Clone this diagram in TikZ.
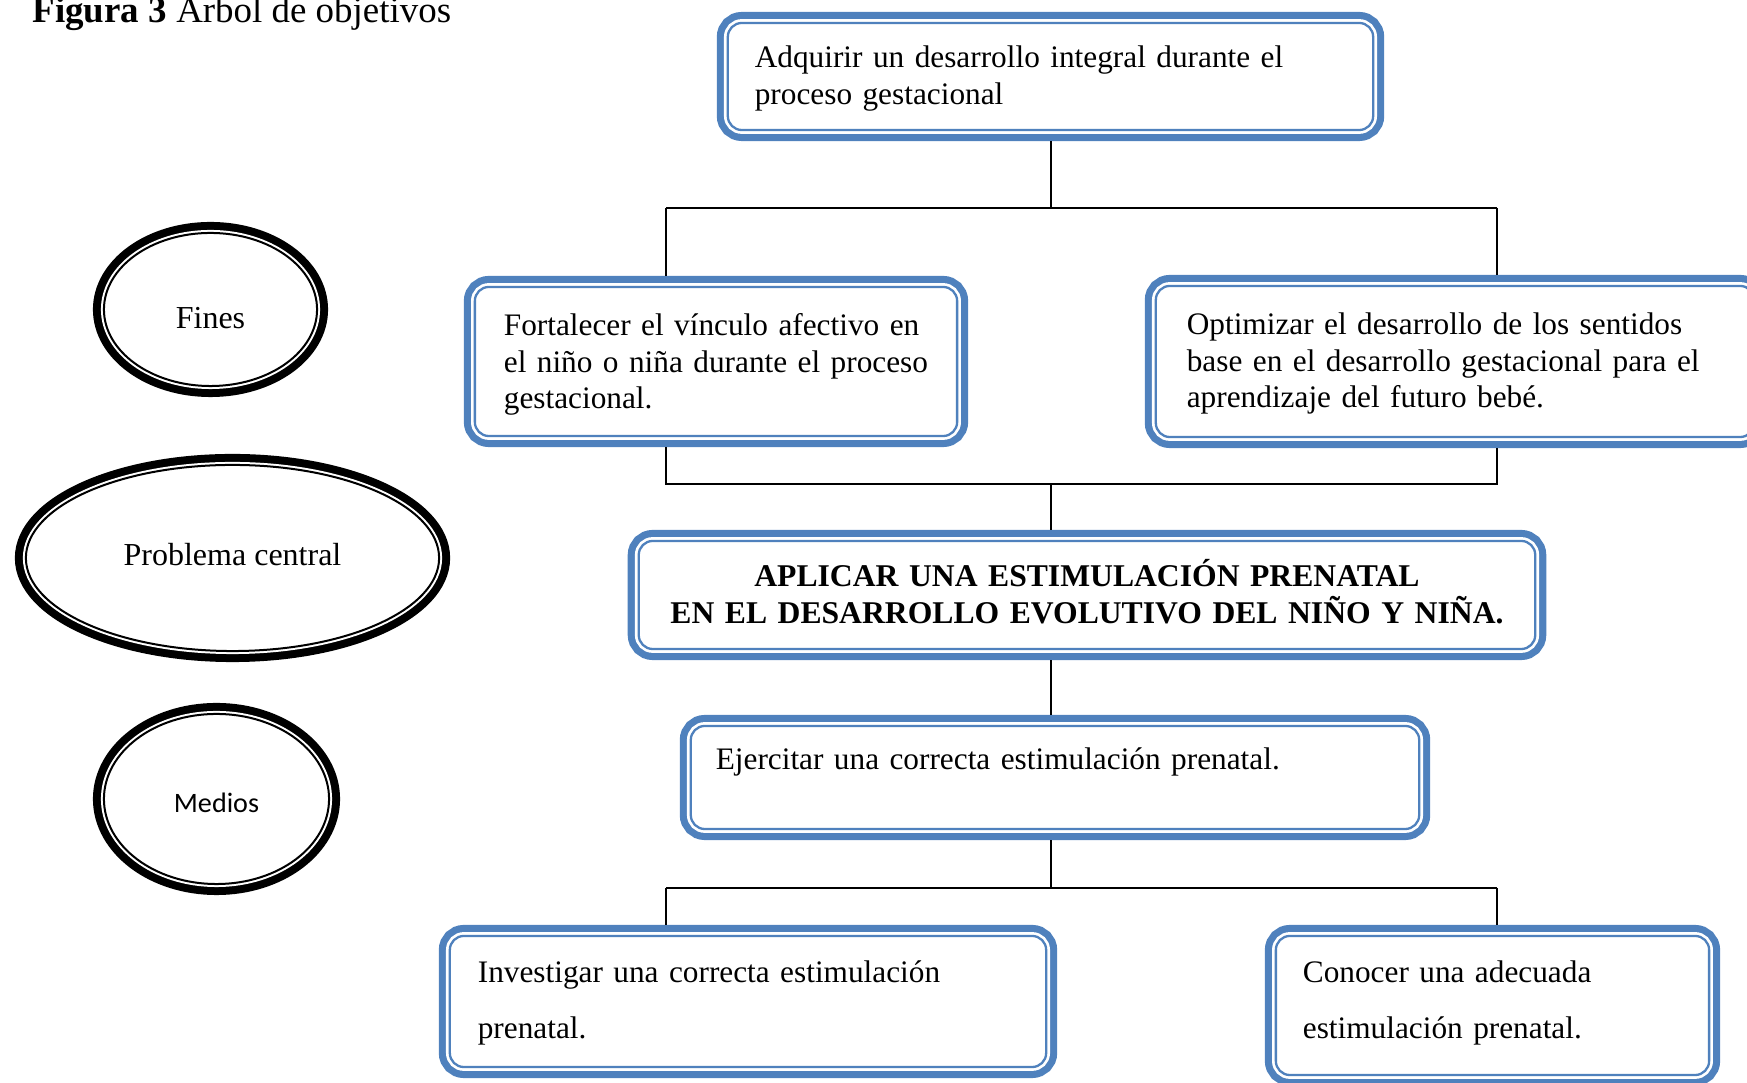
\documentclass[tikz,border=0pt]{standalone}
\usepackage{fontspec}
\setmainfont{Liberation Serif}
\newfontfamily\calibrifont{Carlito}
\usetikzlibrary{shapes.geometric}
\definecolor{boxblue}{RGB}{79,129,189}
\tikzset{
	objbox/.style={draw=boxblue, line width=0.023cm, fill=white, rounded corners=0.14cm,
		preaction={draw=boxblue, line width=0.22cm},
		preaction={draw=white, line width=0.077cm},
		outer sep=0.11cm, align=left, text height=0.22cm,
		font=\fontsize{8.9pt}{10.25pt}\selectfont},
	levelell/.style={ellipse, draw=black, line width=0.02cm, fill=white,
		preaction={draw=black, line width=0.22cm},
		preaction={draw=white, line width=0.06cm},
		inner sep=0pt, outer sep=0.11cm,
		font=\fontsize{9.1pt}{10.25pt}\selectfont},
	link/.style={line width=0.02cm}
}
\begin{document}
\begin{tikzpicture}[x=0.01cm, y=-0.01cm]
	\useasboundingbox (0,0) rectangle (1747,1083);
	\clip (0,0) rectangle (1747,1083);
	\node[anchor=base west, inner sep=0pt, font=\fontsize{10.5pt}{12pt}\selectfont] (title) at (32,23) {\textbf{Figura 3} Árbol de objetivos};

	\node[levelell, minimum width=2.13cm, minimum height=1.53cm, text height=0.376cm, text depth=0cm] (fines) at (210.5,309.5) {Fines};
	\node[levelell, minimum width=4.13cm, minimum height=1.86cm, text height=0.21cm, text depth=0.05cm] (prob) at (232.5,558) {Problema central};
	\node[levelell, minimum width=2.25cm, minimum height=1.70cm, text height=0.32cm, text depth=0.04cm, font=\calibrifont\fontsize{8pt}{9.6pt}\selectfont] (medios) at (216.5,799) {Medios};

	\node[objbox, inner xsep=0.27cm, text width=5.91cm, minimum height=1.07cm, text depth=0.39cm] (adq) at (1050.5,76.5) {Adquirir un desarrollo integral durante el\\proceso gestacional};
	\node[objbox, inner xsep=0.29cm, text width=4.24cm, minimum height=1.49cm, text depth=0.73cm] (fort) at (716,361.5) {Fortalecer el vínculo afectivo en\\el niño o niña durante el proceso\\gestacional.};
	\node[objbox, inner xsep=0.31cm, text width=5.36cm, minimum height=1.51cm, text depth=0.75cm] (opt) at (1455,361.5) {Optimizar el desarrollo de los sentidos\\base en el desarrollo gestacional para el\\aprendizaje del futuro bebé.};
	\node[objbox, align=center, inner xsep=0.2cm, text width=8.56cm, minimum height=1.08cm, text depth=0.38cm, font=\fontsize{9pt}{10.5pt}\selectfont\bfseries] (apl) at (1087,595) {APLICAR UNA ESTIMULACIÓN PRENATAL\\EN EL DESARROLLO EVOLUTIVO DEL NIÑO Y NIÑA.};
	\node[objbox, inner xsep=0.25cm, text width=6.78cm, minimum height=1.03cm, text depth=0.37cm] (ejer) at (1055,777.5) {Ejercitar una correcta estimulación prenatal.};
	\node[objbox, inner xsep=0.28cm, text width=5.40cm, minimum height=1.31cm, text depth=0.59cm, font=\fontsize{8.9pt}{15.9pt}\selectfont] (inv) at (748,1001.5) {Investigar una correcta estimulación\\prenatal.};
	\node[objbox, inner xsep=0.27cm, text width=3.79cm, minimum height=1.39cm, text depth=0.67cm, font=\fontsize{8.9pt}{15.9pt}\selectfont] (con) at (1492.5,1005.5) {Conocer una adecuada\\estimulación prenatal.};

	\coordinate (t0) at (1051,208);
	\coordinate (t1) at (666,208);
	\coordinate (t2) at (1497,208);
	\coordinate (m0) at (1051,484);
	\coordinate (m1) at (666,484);
	\coordinate (m2) at (1497,484);
	\coordinate (b0) at (1051,888);
	\coordinate (b1) at (666,888);
	\coordinate (b2) at (1497,888);

	\draw[link] (adq.south -| t0) -- (t0);
	\draw[link] (t1) -- (t2);
	\draw[link] (t1) -- (t1 |- fort.north);
	\draw[link] (t2) -- (t2 |- opt.north);
	\draw[link] (fort.south -| m1) -- (m1) -- (m2) -- (opt.south -| m2);
	\draw[link] (m0) -- (m0 |- apl.north);
	\draw[link] (apl.south -| m0) -- (ejer.north -| m0);
	\draw[link] (ejer.south -| b0) -- (b0);
	\draw[link] (b1) -- (b2);
	\draw[link] (b1) -- (b1 |- inv.north);
	\draw[link] (b2) -- (b2 |- con.north);
\end{tikzpicture}
\end{document}
